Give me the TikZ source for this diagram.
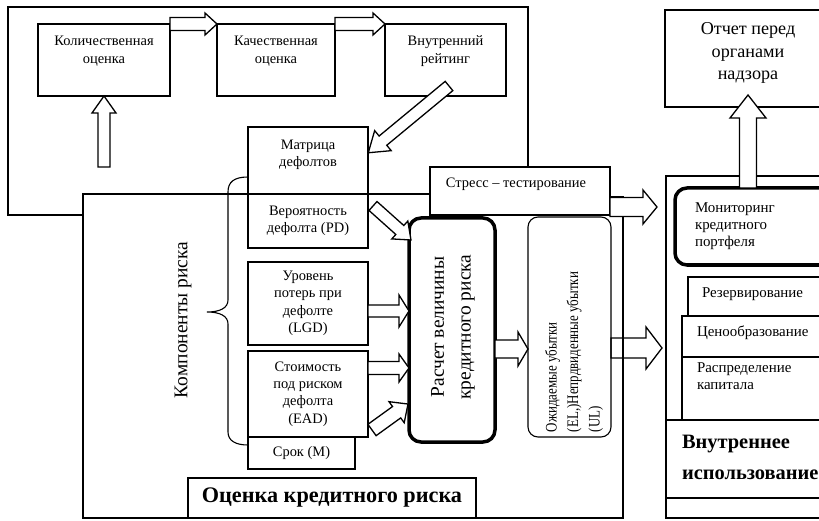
\documentclass[tikz,border=0pt]{standalone}
\usepackage{fontspec}
\setmainfont{Liberation Serif}
\usetikzlibrary{calc}
\newcommand\fntA{\fontsize{14.5}{17.5}\selectfont}
\newcommand\fntM{\fontsize{15}{17}\selectfont}
\newcommand\fntO{\fontsize{18.2}{22.5}\selectfont}
\newcommand\fntK{\fontsize{19.5}{22}\selectfont}
\newcommand\fntR{\fontsize{19.5}{27}\selectfont}
\newcommand\fntE{\fontsize{13}{17.5}\selectfont}
\newcommand\fntV{\fontsize{20.5}{31}\selectfont\bfseries}
\newcommand\fntB{\fontsize{22.3}{26}\selectfont\bfseries}
\tikzset{
  box/.style={draw, fill=white, line width=1.1bp, inner sep=0pt, outer sep=0pt, align=center, font=\fntA},
  thickbox/.style={box, line width=3.5bp, rounded corners=12bp},
  txt/.style={inner sep=0pt, outer sep=0pt, align=center, font=\fntA},
  frame/.style={draw, line width=1.1bp},
  barr/.style={draw, fill=white, line width=1.3bp, line join=miter},
}
% hollow block arrow: [style] from, to, shaft half width, head half width, head length
\newcommand\barrow[6][]{%
  \path let \p1=(#2), \p2=(#3) in \pgfextra{%
    \pgfmathsetmacro\bax{\x1}\pgfmathsetmacro\bay{\y1}%
    \pgfmathsetmacro\bang{atan2((\y2)-(\y1),(\x2)-(\x1))}%
    \pgfmathsetmacro\blen{veclen((\x2)-(\x1),(\y2)-(\y1))}%
    \xdef\gbax{\bax}\xdef\gbay{\bay}\xdef\gbang{\bang}\xdef\gblen{\blen}};
  \begin{scope}[shift={(\gbax pt,\gbay pt)}, rotate=\gbang]
    \filldraw[barr,#1] (0pt,-#4bp) -- ({\gblen pt-#6bp},-#4bp) -- ({\gblen pt-#6bp},-#5bp)
      -- (\gblen pt,0pt) -- ({\gblen pt-#6bp},#5bp) -- ({\gblen pt-#6bp},#4bp) -- (0pt,#4bp) -- cycle;
  \end{scope}}
\begin{document}
\begin{tikzpicture}[x=1bp,y=-1bp]
\clip (0,0) rectangle (819,521);
\fill[white] (0,0) rectangle (819,521);
% frames
\draw[frame] (83,215) -- (8,215) -- (8,7) -- (528,7) -- (528,167);
\draw[frame] (430,194) -- (83,194) -- (83,518) -- (623,518) -- (623,197) -- (610,197);
\draw[frame] (840,176) -- (666,176) -- (666,518) -- (840,518);
% top row
\node[box, minimum width=132bp, minimum height=72bp] (kol) at (104,60) {};
\node[txt] (kolt) at (104,51) {Количественная\\оценка};
\node[box, minimum width=118bp, minimum height=72bp] (kach) at (276,60) {};
\node[txt] (kacht) at (276,51) {Качественная\\оценка};
\node[box, minimum width=121bp, minimum height=72bp] (vnutr) at (445.5,60) {};
\node[txt] (vnutrt) at (445.5,51) {Внутренний\\рейтинг};
% risk components
\node[box, minimum width=120bp, minimum height=67bp] (mat) at (308,160.5) {};
\node[txt] (matt) at (308,155) {Матрица\\дефолтов};
\node[box, minimum width=120bp, minimum height=54bp] (prob) at (308,221) {Вероятность\\дефолта (PD)};
\node[box, minimum width=120bp, minimum height=83bp] (lgd) at (308,303.5) {Уровень\\потерь при\\дефолте\\(LGD)};
\node[box, minimum width=120bp, minimum height=86bp] (ead) at (308,394) {Стоимость\\под риском\\дефолта\\(EAD)};
\node[box, minimum width=107bp, minimum height=32bp] (srok) at (301.5,453) {Срок (M)};
\draw[frame] (248,177) .. controls (234,177) and (228,182) .. (228,192) -- (228,300)
  .. controls (228,308) and (220,312) .. (207,312) .. controls (220,312) and (228,316) .. (228,324)
  -- (228,432) .. controls (228,441) and (236,445) .. (248,445);
\node[txt, font=\fntK, rotate=90] (komp) at (183,320) {Компоненты риска};
% stress
\node[box, minimum width=180bp, minimum height=48bp] (stress) at (520,191) {};
\node[txt] (stresst) at (516,184) {Стресс – тестирование};
% calculation
\node[thickbox, minimum width=86bp, minimum height=224bp] (rasch) at (452,330) {};
\node[txt, font=\fntR, rotate=90] (rascht) at (453,327) {Расчет величины\\кредитного риска};
\node[box, rounded corners=10bp, minimum width=83bp, minimum height=220bp] (el) at (569.5,327) {};
\node[txt, font=\fntE, align=left, rotate=90, yscale=1.24, anchor=north west] (elt) at (545,432)
  {Ожидаемые убытки\\(EL,)Непрдвиденные убытки\\(UL)};
% bottom label
\node[box, font=\fntB, minimum width=288bp, minimum height=40bp] (ocenka) at (332,498) {Оценка кредитного риска};
% right side
\node[box, minimum width=166bp, minimum height=97bp] (otchet) at (748,58.5) {};
\node[txt, font=\fntO] (otchett) at (748,53) {Отчет перед\\органами\\надзора};
\node[thickbox, minimum width=160bp, minimum height=77bp] (mon) at (755,226.5) {};
\node[txt, font=\fntM, anchor=west, align=left] (mont) at (695,226) {Мониторинг\\кредитного\\портфеля};
\node[box, minimum width=152bp, minimum height=39bp] (rez) at (764,296.5) {};
\node[txt, anchor=west, font=\fntM] (rezt) at (702,294) {Резервирование};
\node[box, minimum width=158bp, minimum height=41bp] (cen) at (761,336.5) {};
\node[txt, anchor=west, font=\fntM] (cent) at (697,333) {Ценообразование};
\node[box, minimum width=158bp, minimum height=63bp] (rasp) at (761,388.5) {};
\node[txt, anchor=west, align=left, font=\fntM] (raspt) at (697,376) {Распределение\\капитала};
\node[box, minimum width=174bp, minimum height=78bp] (vnisp) at (753,459) {};
\node[txt, font=\fntV, anchor=west, align=left] (vnispt) at (682,457.5) {Внутреннее\\использование};
% arrows
\coordinate (a1) at (104,167);
\barrow{kol.north east}{kach.north west}{6.5}{11}{12}
\barrow{kach.north east}{vnutr.north west}{6.5}{11}{12}
\barrow{a1}{kol.south}{6}{12}{17}
\coordinate (a2s) at (449,86); \coordinate (a2e) at (368,153);
\barrow{a2s}{a2e}{6}{13}{19}
\coordinate (a3s) at (373,206); \coordinate (a3e) at (411,240);
\barrow{a3s}{a3e}{6}{12}{15}
\coordinate (a4s) at (368,311); \coordinate (a4e) at (409,311);
\barrow{a4s}{a4e}{6}{16}{10}
\coordinate (a5s) at (368,368); \coordinate (a5e) at (409,368);
\barrow{a5s}{a5e}{6.5}{14}{10}
\coordinate (a6s) at (372,430); \coordinate (a6e) at (408,404);
\barrow{a6s}{a6e}{7}{13}{14}
\coordinate (a7s) at (495,349); \coordinate (a7e) at (528,349);
\barrow{a7s}{a7e}{9}{17}{10}
\coordinate (a8s) at (610,207); \coordinate (a8e) at (657,207);
\barrow{a8s}{a8e}{9.5}{17}{14}
\coordinate (a9s) at (611,348); \coordinate (a9e) at (662,348);
\barrow[fill=none]{a9s}{a9e}{10}{21}{16}
\coordinate (a10s) at (748,188); \coordinate (a10e) at (748,95);
\barrow{a10s}{a10e}{8.5}{18}{23}
\end{tikzpicture}
\end{document}
